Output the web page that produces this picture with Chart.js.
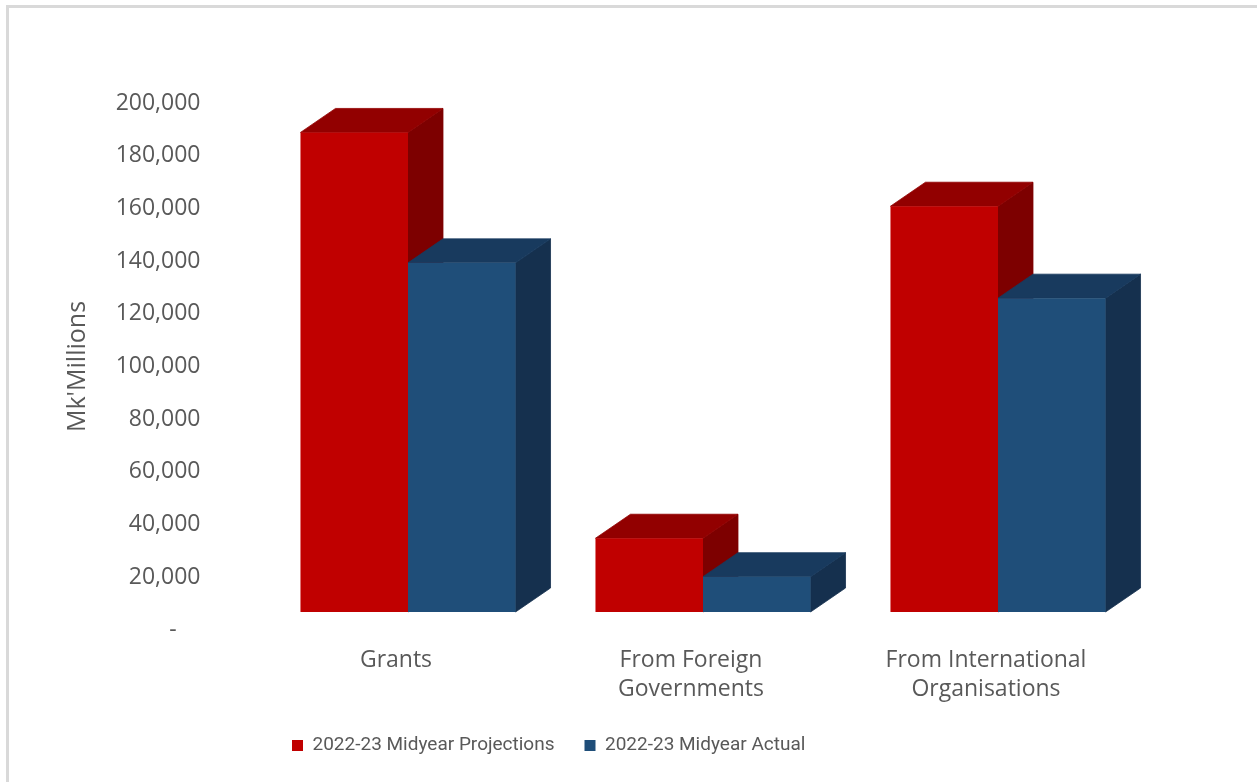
<!DOCTYPE html>
<html>
<head>
<meta charset="utf-8">
<script src="https://cdn.jsdelivr.net/npm/chart.js@4.4.0/dist/chart.umd.min.js"></script>
<style>
  html, body { margin: 0; padding: 0; background: #fff; overflow: hidden; }
  #frame { position: absolute; left: 6px; top: 5px; width: 1280px; height: 800px; border-left: 3px solid #d9d9d9; border-top: 3px solid #d9d9d9; }
  #wrap { position: absolute; left: 0; top: 0; width: 1257px; height: 782px; }
</style>
</head>
<body>
<div id="frame"></div>
<div id="wrap"><canvas id="chart"></canvas></div>
<script>
// Data (Mk'Millions)
const categories = ['Grants', ['From Foreign', 'Governments'], ['From International', 'Organisations']];
const projections = [182000, 28000, 154000];
const actuals = [132500, 13400, 119100];
const yTickValues = [0, 20000, 40000, 60000, 80000, 100000, 120000, 140000, 160000, 180000, 200000];
const seriesNames = ['2022-23 Midyear Projections', '2022-23 Midyear Actual'];

// 3D look: front faces are drawn by Chart.js, tops and sides by this plugin
const depth = { dx: 35, dy: 24, lift: 18 };
const faceColors = [
  { top: '#920000', side: '#7d0000' },
  { top: '#183a5e', side: '#15304e' }
];

function fillPoly(ctx, pts, color) {
  ctx.fillStyle = color;
  ctx.strokeStyle = color;
  ctx.lineWidth = 0.8;
  ctx.beginPath();
  ctx.moveTo(pts[0][0], pts[0][1]);
  pts.slice(1).forEach(p => ctx.lineTo(p[0], p[1]));
  ctx.closePath();
  ctx.fill();
  ctx.stroke();
}

const bars3d = {
  id: 'bars3d',
  beforeDatasetsDraw(chart) {
    const ctx = chart.ctx;
    ctx.save();
    ctx.translate(0, -depth.lift);
    chart.data.datasets.forEach((ds, i) => {
      chart.getDatasetMeta(i).data.forEach(bar => {
        const { x, y, base, width } = bar.getProps(['x', 'y', 'base', 'width'], true);
        const l = x - width / 2, r = x + width / 2;
        fillPoly(ctx, [[r, y], [r + depth.dx, y - depth.dy], [r + depth.dx, base - depth.dy], [r, base]], faceColors[i].side);
        fillPoly(ctx, [[l, y], [l + depth.dx, y - depth.dy], [r + depth.dx, y - depth.dy], [r, y]], faceColors[i].top);
      });
    });
  },
  afterDatasetsDraw(chart) {
    chart.ctx.restore();
  }
};

// legend sits left of centre in the original
const legendPos = {
  id: 'legendPos',
  afterLayout(chart) {
    chart.legend.left = 262;
  }
};

const gray = '#595959';

new Chart(document.querySelector('#chart'), {
  type: 'bar',
  data: {
    labels: categories,
    datasets: [{
      label: seriesNames[0],
      data: projections,
      backgroundColor: '#c00000',
      borderWidth: 0
    }, {
      label: seriesNames[1],
      data: actuals,
      backgroundColor: '#1f4e79',
      borderWidth: 0
    }]
  },
  options: {
    responsive: true,
    maintainAspectRatio: false,
    animation: false,
    datasets: {
      bar: { categoryPercentage: 0.729, barPercentage: 1.0 }
    },
    layout: {
      padding: { left: 63, right: 111.5, top: 103, bottom: 17 }
    },
    scales: {
      x: {
        grid: { display: false, drawTicks: false },
        border: { display: false },
        ticks: {
          color: gray,
          padding: 16,
          labelOffset: -12,
          maxRotation: 0,
          font: { family: 'Open Sans', size: 23, lineHeight: 1.25 }
        },
        afterFit: scale => { scale.height = 76; }
      },
      y: {
        min: 0,
        max: 200000,
        grid: { display: false, drawTicks: false },
        border: { display: false },
        afterBuildTicks: scale => { scale.ticks = yTickValues.map(v => ({ value: v })); },
        ticks: {
          color: gray,
          padding: 60,
          font: { family: 'Open Sans', size: 23 },
          callback: v => v === 0 ? '-    ' : v.toLocaleString('en-US')
        },
        title: {
          display: true,
          text: "Mk'Millions",
          color: gray,
          padding: 0,
          font: { family: 'Open Sans', size: 25, lineHeight: 1.2 }
        },
        afterFit: scale => { scale.width = 197.5; }
      }
    },
    plugins: {
      tooltip: { enabled: false },
      legend: {
        position: 'bottom',
        align: 'start',
        labels: {
          boxWidth: 11,
          boxHeight: 11,
          padding: 30,
          color: gray,
          font: { family: 'Roboto', size: 19 }
        }
      }
    }
  },
  plugins: [bars3d, legendPos]
});
</script>
</body>
</html>
